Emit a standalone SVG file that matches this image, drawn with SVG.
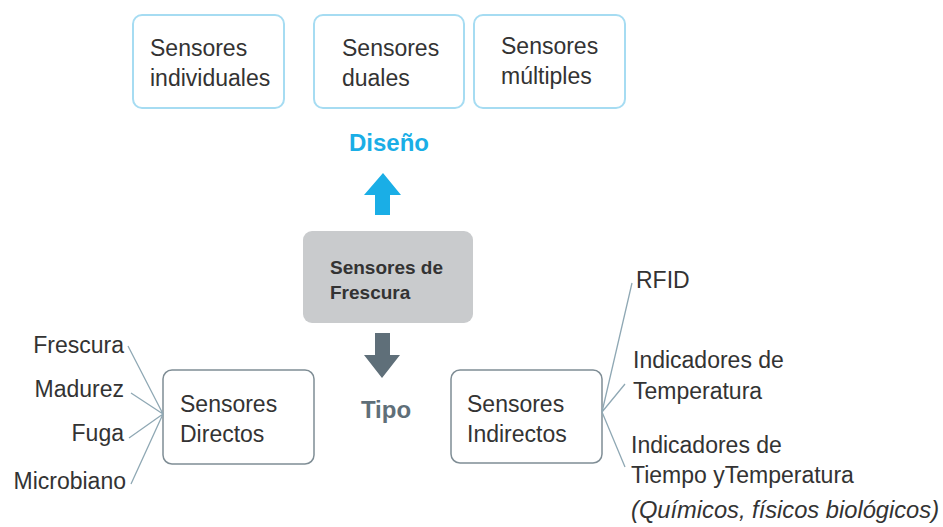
<svg xmlns="http://www.w3.org/2000/svg" width="943" height="527" viewBox="0 0 943 527">
<style>
text{font-family:"Liberation Sans",Arial,sans-serif;fill:#333}
.t{font-size:23px}
.top{fill:#fff;stroke:#a6dcf2;stroke-width:2}
.bot{fill:#fff;stroke:#7f8d95;stroke-width:1.5}
.ln{stroke:#8fa8b4;stroke-width:1.3;fill:none}
.b{font-weight:bold}
</style>
<rect width="943" height="527" fill="#fff"/>
<g id="n-individuales"><rect class="top" x="133" y="15" width="151" height="93" rx="9"/><text class="t" x="150" y="56">Sensores</text><text class="t" x="150" y="86">individuales</text></g>
<g id="n-duales"><rect class="top" x="314" y="15" width="150" height="93" rx="9"/><text class="t" x="342" y="56">Sensores</text><text class="t" x="342" y="86">duales</text></g>
<g id="n-multiples"><rect class="top" x="474" y="15" width="151" height="93" rx="9"/><text class="t" x="501" y="54">Sensores</text><text class="t" x="501" y="84">múltiples</text></g>
<g id="n-diseno"><text class="b" x="389" y="151" font-size="24" text-anchor="middle" style="fill:#1aaee6">Diseño</text></g>
<g id="n-center"><rect x="303" y="231" width="170" height="92" rx="9" fill="#c9cbcd"/><text class="b" x="330" y="274" font-size="19">Sensores de</text><text class="b" x="330" y="299" font-size="19">Frescura</text></g>
<g id="n-tipo"><text class="b" x="386" y="418" font-size="24" text-anchor="middle" style="fill:#5f6f79">Tipo</text></g>
<g id="n-directos"><rect class="bot" x="163" y="370" width="151" height="94" rx="9"/><text class="t" x="180" y="412">Sensores</text><text class="t" x="180" y="442">Directos</text></g>
<g id="n-indirectos"><rect class="bot" x="451" y="370" width="151" height="93" rx="9"/><text class="t" x="467" y="412">Sensores</text><text class="t" x="467" y="442">Indirectos</text></g>
<g id="n-frescura"><text class="t" x="124" y="353" text-anchor="end">Frescura</text></g>
<g id="n-madurez"><text class="t" x="124" y="397" text-anchor="end">Madurez</text></g>
<g id="n-fuga"><text class="t" x="124" y="441" text-anchor="end">Fuga</text></g>
<g id="n-microbiano"><text class="t" x="126" y="489" text-anchor="end">Microbiano</text></g>
<g id="n-rfid"><text class="t" x="636" y="288">RFID</text></g>
<g id="n-temp"><text class="t" x="633" y="368">Indicadores de</text><text class="t" x="633" y="399">Temperatura</text></g>
<g id="n-tiempo"><text class="t" x="631" y="453">Indicadores de</text><text class="t" x="631" y="483">Tiempo yTemperatura</text><text x="631" y="518" font-size="23.7" font-style="italic">(Químicos, físicos biológicos)</text></g>
<g id="connectors">
<polygon points="383,173 401,195 390,195 390,215 375,215 375,195 364,195" fill="#1aaee6"/>
<polygon points="375,333 390,333 390,355 400,355 382,378 364,355 375,355" fill="#5f6f79"/>
<path class="ln" d="M128,346 L163,414 M131,393 L163,414 M129,438 L163,414 M131,484 L163,414"/>
<path class="ln" d="M602,412 L632,283 M602,412 L625,384 M602,412 L625,467"/>
</g>
</svg>
